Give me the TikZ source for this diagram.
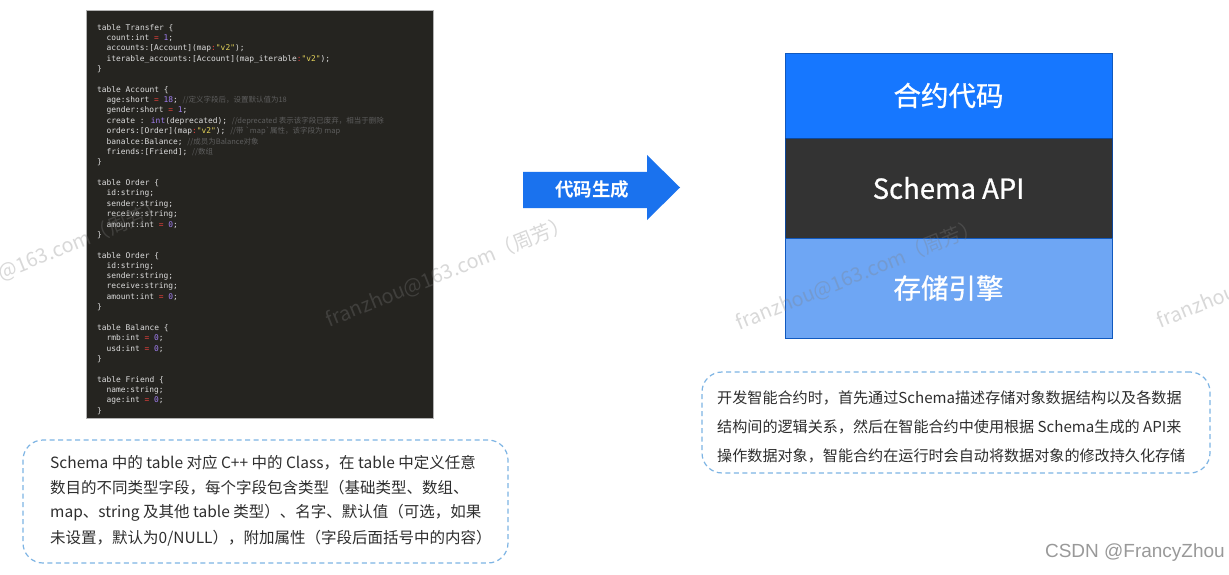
\documentclass[tikz,border=0pt]{standalone}
\usepackage{fontspec}
\setmainfont{Noto Sans CJK SC}
\newfontfamily\cjk{Noto Sans CJK SC}
\newfontfamily\cjkmed[FakeBold=0.8]{Noto Sans CJK SC}
\newfontfamily\cjkbold{Noto Sans CJK SC Bold}
\newfontfamily\codefont{DejaVu Sans Mono}
\newfontfamily\csdnfont{Liberation Sans}
\definecolor{codebg}{HTML}{252420}
\definecolor{codefg}{HTML}{DCDCDC}
\definecolor{cred}{HTML}{E8413C}
\definecolor{cnum}{HTML}{A07EF0}
\definecolor{cstr}{HTML}{E6D55A}
\definecolor{ccom}{HTML}{5E5E5E}
\definecolor{arrowblue}{HTML}{1A72EE}
\definecolor{topblue}{HTML}{1677FF}
\definecolor{midgray}{HTML}{333333}
\definecolor{lowblue}{HTML}{6EA6F4}
\definecolor{dashblue}{HTML}{7DB4E4}
\definecolor{txt}{HTML}{2E2E2E}
\newcommand\Ceq{\textcolor{cred}{=}}
\newcommand\Ccol{\textcolor{cred}{:}}
\newcommand\Cnum[1]{\textcolor{cnum}{#1}}
\newcommand\Cstr[1]{\textcolor{cstr}{#1}}
\newcommand\Ccom[1]{\textcolor{ccom}{{\cjk\fontsize{7.5}{8}\selectfont #1}}}
\tikzset{
  code/.style={anchor=west, inner sep=0pt, text=codefg, font=\codefont\fontsize{7.9}{9}\selectfont},
  layer/.style={rectangle, minimum width=327pt, inner sep=0pt, text=white, draw=black!25!topblue, line width=0.6pt, font=\cjkmed\fontsize{27.5}{30}\selectfont},
  notebox/.style={rectangle, rounded corners=20pt, draw=dashblue, dash pattern=on 5pt off 3.5pt, line width=1.2pt, inner sep=0pt},
  notetext/.style={anchor=west, inner sep=0pt, text=txt, font=\cjk\fontsize{15.5}{18}\selectfont},
  wm/.style={anchor=west, inner sep=0pt, text=gray, text opacity=0.3, rotate=22, font=\cjk\fontsize{20}{21}\selectfont},
}
\begin{document}
\begin{tikzpicture}[x=1pt,y=-1pt]
\useasboundingbox (0,0) rectangle (1229,575);
\fill[white] (0,0) rectangle (1229,575);
% code block
\node[rectangle, fill=codebg, draw=black!30, line width=0.6pt, minimum width=347pt, minimum height=408pt, inner sep=0pt] (codeblock) at (259.5,214) {};
\def\xa{97}\def\xb{106.4}
\node[code] (c1)  at (\xa,28.00)  {table Transfer \{};
\node[code] (c2)  at (\xb,38.35)  {count:int \Ceq{} \Cnum{1};};
\node[code] (c3)  at (\xb,48.70)  {accounts:[Account](map\Ccol\Cstr{"v2"});};
\node[code] (c4)  at (\xb,59.05)  {iterable\_accounts:[Account](map\_iterable\Ccol\Cstr{"v2"});};
\node[code] (c5)  at (\xa,69.40)  {\}};
\node[code] (c7)  at (\xa,90.10)  {table Account \{};
\node[code] (c8)  at (\xb,100.45) {age:short \Ceq{} \Cnum{18}; \Ccom{//定义字段后，设置默认值为18}};
\node[code] (c9)  at (\xb,110.80) {gender:short \Ceq{} \Cnum{1};};
\node[code] (c10) at (\xb,121.15) {create : \Cnum{int}(deprecated); \Ccom{//deprecated 表示该字段已废弃，相当于删除}};
\node[code] (c11) at (\xb,131.50) {orders:[Order](map\Ccol\Cstr{"v2"}); \Ccom{//带 \symbol{96}map\symbol{96}属性，该字段为 map}};
\node[code] (c12) at (\xb,141.85) {banalce:Balance; \Ccom{//成员为Balance对象}};
\node[code] (c13) at (\xb,152.20) {friends:[Friend]; \Ccom{//数组}};
\node[code] (c14) at (\xa,162.55) {\}};
\node[code] (c16) at (\xa,183.25) {table Order \{};
\node[code] (c17) at (\xb,193.60) {id:string;};
\node[code] (c18) at (\xb,203.95) {sender:string;};
\node[code] (c19) at (\xb,214.30) {receive:string;};
\node[code] (c20) at (\xb,224.65) {amount:int \Ceq{} \Cnum{0};};
\node[code] (c21) at (\xa,235.00) {\}};
\node[code] (c23) at (\xa,255.70) {table Order \{};
\node[code] (c24) at (\xb,266.05) {id:string;};
\node[code] (c25) at (\xb,276.40) {sender:string;};
\node[code] (c26) at (\xb,286.75) {receive:string;};
\node[code] (c27) at (\xb,297.10) {amount:int \Ceq{} \Cnum{0};};
\node[code] (c28) at (\xa,307.45) {\}};
\node[code] (c30) at (\xa,328.15) {table Balance \{};
\node[code] (c31) at (\xb,338.50) {rmb:int \Ceq{} \Cnum{0};};
\node[code] (c32) at (\xb,348.85) {usd:int \Ceq{} \Cnum{0};};
\node[code] (c33) at (\xa,359.20) {\}};
\node[code] (c35) at (\xa,379.90) {table Friend \{};
\node[code] (c36) at (\xb,390.25) {name:string;};
\node[code] (c37) at (\xb,400.60) {age:int \Ceq{} \Cnum{0};};
\node[code] (c38) at (\xa,410.95) {\}};
% arrow
\fill[arrowblue] (523,172) -- (647,172) -- (647,155) -- (680,187.5) -- (647,220) -- (647,208) -- (523,208) -- cycle;
\node[inner sep=0pt, text=white, font=\cjkbold\fontsize{18.5}{20}\selectfont] (gen) at (592,189) {代码生成};
% stack
\node[layer, fill=topblue, minimum height=85pt] (contract) at (948.5,95.5) {合约代码};
\node[layer, fill=midgray, draw=black!40!topblue, minimum height=100pt] (api) at (948.5,188) {Schema API};
\node[layer, fill=lowblue, minimum height=100pt] (storage) at (948.5,288) {存储引擎};
% note boxes
\node[notebox, minimum width=485pt, minimum height=123pt] (leftnote) at (265.5,501.5) {};
\node[notetext] (l1) at (50,463) {Schema 中的 table 对应 C++ 中的 Class，在 table 中定义任意};
\node[notetext] (l2) at (50,488) {数目的不同类型字段，每个字段包含类型（基础类型、数组、};
\node[notetext] (l3) at (50,513) {map、string 及其他 table 类型）、名字、默认值（可选，如果};
\node[notetext] (l4) at (50,538) {未设置，默认为0/NULL），附加属性（字段后面括号中的内容）};
\node[notebox, minimum width=508pt, minimum height=101pt] (rightnote) at (956,422.5) {};
\node[notetext, font=\cjk\fontsize{15.1}{18}\selectfont] (r1) at (717,398) {开发智能合约时，首先通过Schema描述存储对象数据结构以及各数据};
\node[notetext, font=\cjk\fontsize{15.1}{18}\selectfont] (r2) at (717,427) {结构间的逻辑关系，然后在智能合约中使用根据 Schema生成的 API来};
\node[notetext, font=\cjk\fontsize{15.1}{18}\selectfont] (r3) at (717,456) {操作数据对象，智能合约在运行时会自动将数据对象的修改持久化存储};
% watermarks
\begin{scope}
\clip (0,0) rectangle (1229,575);
\node[wm] (wm1) at (-78,305) {franzhou@163.com（周芳）};
\node[wm] (wm2) at (327,321) {franzhou@163.com（周芳）};
\node[wm] (wm3) at (737,324) {franzhou@163.com（周芳）};
\node[wm] (wm4) at (1158,322) {franzhou@163.com（周芳）};
\end{scope}
\node[anchor=east, inner sep=0pt, text=black!40, font=\csdnfont\fontsize{19}{20}\selectfont] (csdn) at (1225,553) {CSDN @FrancyZhou};
\end{tikzpicture}
\end{document}
